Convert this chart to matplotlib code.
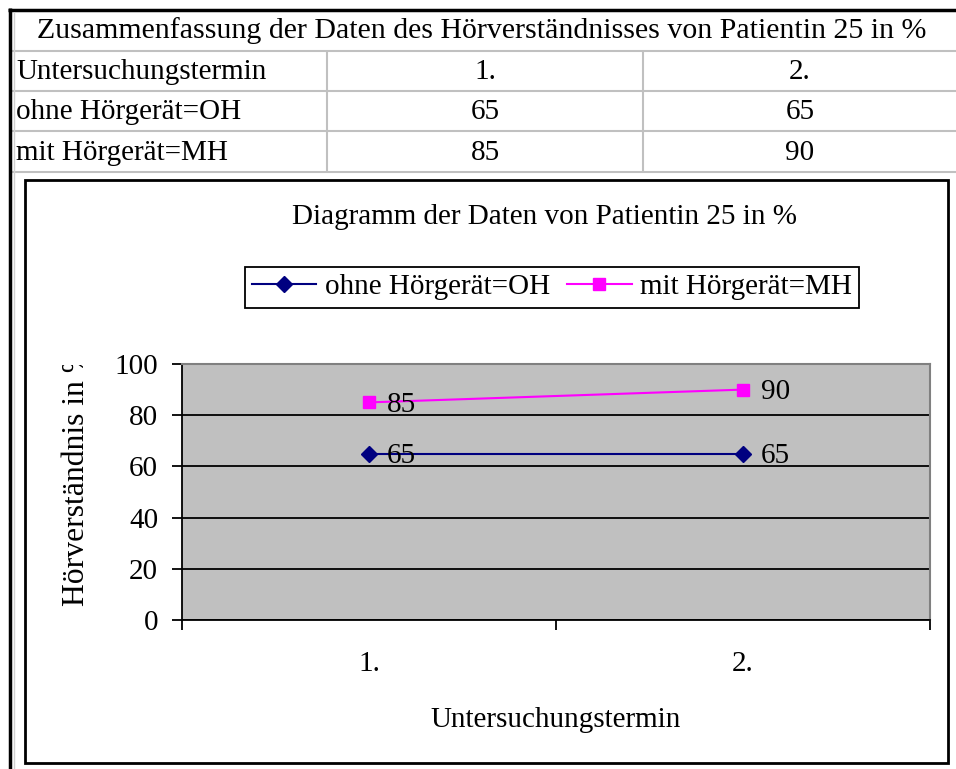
import matplotlib
matplotlib.use("Agg")
import matplotlib.pyplot as plt
from matplotlib.lines import Line2D
from matplotlib.transforms import Bbox

# Daten
table_title = "Zusammenfassung der Daten des Hörverständnisses von Patientin 25 in %"
termine = ["1.", "2."]
serien = ["ohne Hörgerät=OH", "mit Hörgerät=MH"]
oh_werte = [65, 65]
mh_werte = [85, 90]
chart_title = "Diagramm der Daten von Patientin 25 in %"
x_label = "Untersuchungstermin"
y_label = "Hörverständnis in %"

W, H = 956, 769
plt.rcParams['font.family'] = ['Liberation Serif', 'DejaVu Serif']
fs = 21

fig = plt.figure(figsize=(W / 100, H / 100), dpi=100)


def fx(x):
    return x / W


def fy(y):
    return 1 - y / H


def hline(x0, x1, y, color, lw):
    fig.add_artist(Line2D([fx(x0), fx(x1)], [fy(y), fy(y)], color=color, lw=lw,
                          transform=fig.transFigure, solid_capstyle='butt'))


def vline(x, y0, y1, color, lw):
    fig.add_artist(Line2D([fx(x), fx(x)], [fy(y0), fy(y1)], color=color, lw=lw,
                          transform=fig.transFigure, solid_capstyle='butt'))


# Tabelle oben
grau = '#c0c0c0'
row_y = [51, 91, 131, 172]
for y in row_y:
    hline(10, 956, y, grau, 1.5)
vline(327, 51, 172, grau, 1.5)
vline(643, 51, 172, grau, 1.5)
hline(8, 956, 9.5, 'black', 2.5)
vline(9.5, 8, 769, 'black', 2.5)
vline(14, 12, 769, '#d0d0d0', 1.0)

fig.text(fx(482), fy(31), table_title, fontsize=21.5, ha='center', va='center')
zeilen = [["Untersuchungstermin"] + termine,
          [serien[0]] + [str(v) for v in oh_werte],
          [serien[1]] + [str(v) for v in mh_werte]]
for i, zeile in enumerate(zeilen):
    yc = (row_y[i] + row_y[i + 1]) / 2 + 1
    fig.text(fx(16), fy(yc), zeile[0], fontsize=fs, ha='left', va='center')
    fig.text(fx(485), fy(yc), zeile[1], fontsize=fs, ha='center', va='center')
    fig.text(fx(800), fy(yc), zeile[2], fontsize=fs, ha='center', va='center')

# Diagrammrahmen
fig.add_artist(plt.Rectangle((fx(25), fy(763)), fx(948) - fx(25), fy(180) - fy(763),
                             transform=fig.transFigure, fill=False, ec='black', lw=2))
fig.text(fx(545), fy(217), chart_title, fontsize=fs, ha='center', va='center')

# Diagramm
ax = fig.add_axes([fx(182), fy(620), fx(930) - fx(182), fy(364) - fy(620)])
ax.set_facecolor('#c0c0c0')
xpos = [0.5, 1.5]
ax.plot(xpos, oh_werte, color='#000080', lw=1.5, marker='D', ms=8.5, label=serien[0])
ax.plot(xpos, mh_werte, color='#ff00ff', lw=1.5, marker='s', ms=8.5, label=serien[1])
for x, v in zip(xpos, oh_werte):
    ax.annotate(str(v), (x, v), xytext=(13, -2), textcoords='offset points',
                fontsize=fs, ha='left', va='center')
for x, v in zip(xpos, mh_werte):
    ax.annotate(str(v), (x, v), xytext=(13, -2), textcoords='offset points',
                fontsize=fs, ha='left', va='center')

ax.set_xlim(0, 2)
ax.set_ylim(0, 100)
ax.set_yticks([0, 20, 40, 60, 80, 100])
ax.yaxis.grid(True, color='black', lw=1.3)
ax.set_axisbelow(True)
ax.tick_params(axis='y', direction='out', length=7.2, width=1.3, labelsize=fs, pad=10)
ax.set_xticks([0, 1, 2])
ax.set_xticklabels(['', '', ''])
ax.set_xticks(xpos, minor=True)
ax.set_xticklabels(termine, minor=True, fontsize=fs)
ax.tick_params(axis='x', which='major', direction='out', length=7.2, width=1.3)
ax.tick_params(axis='x', which='minor', length=0, pad=22)
ax.spines['left'].set_linewidth(1.3)
ax.spines['bottom'].set_linewidth(1.3)
ax.spines['top'].set_color('#808080')
ax.spines['right'].set_color('#808080')
ax.spines['top'].set_linewidth(1.5)
ax.spines['right'].set_linewidth(1.5)

ax.set_xlabel(x_label, fontsize=fs, labelpad=22)
# Achsentitel links, oben abgeschnitten wie im Original
yl = fig.text(fx(77), fy(606), y_label, fontsize=22.8, rotation=90,
              ha='center', va='bottom')
yl.set_clip_box(Bbox.from_extents(0, fy(766) * H, W, fy(365) * H))
yl.set_clip_on(True)

leg = fig.legend(loc='center', bbox_to_anchor=(fx(552), fy(287)), ncol=2,
                 fontsize=fs, frameon=True, fancybox=False, edgecolor='black',
                 framealpha=1, handlelength=2.2, handletextpad=0.3,
                 columnspacing=0.6, borderpad=0.25, borderaxespad=0)
leg.get_frame().set_linewidth(1.3)

fig.savefig('out.png', dpi=100)
